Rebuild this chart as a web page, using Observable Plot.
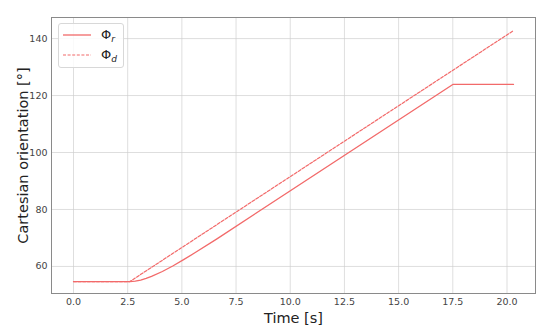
<!DOCTYPE html>
<html>
<head>
<meta charset="utf-8">
<script src="https://cdn.jsdelivr.net/npm/d3@7"></script>
<script src="https://cdn.jsdelivr.net/npm/@observablehq/plot@0.6"></script>
<style>
  html, body { margin: 0; padding: 0; background: #fff; }
  #wrap { position: relative; width: 550px; height: 327px; font-family: "DejaVu Sans", sans-serif; }
  #legend { position: absolute; left: 58px; top: 23px; width: 64px; height: 43px;
    border: 1px solid #d8d8d8; border-radius: 3px; background: rgba(255,255,255,0.85); }
  .entry { position: absolute; left: 4px; height: 16px; display: flex; align-items: center; font-size: 13px; color: #222; }
  .entry svg { margin-right: 10px; }
  .entry sub { font-style: italic; font-size: 9px; vertical-align: -3px; }
  svg [aria-label="y-axis label"] text, svg [aria-label="x-axis label"] text { font-size: 14.5px; fill: #222; }
</style>
</head>
<body>
<div id="wrap"></div>
<script>
// Time [s] and orientation [°]
const timeD = [0, 2.6, 20.3];
const phiD = [54.7, 54.7, 142.8];

const timeR = [0, 2.6, 2.85, 3.1, 3.35, 3.6, 4.1, 4.6, 5.1, 5.6, 6.6, 17.5, 20.3];
const phiR = [54.7, 54.7, 54.84, 55.21, 55.78, 56.49, 58.23, 60.26, 62.47, 64.79, 69.6, 123.9, 123.9];

const xTicks = [0, 2.5, 5, 7.5, 10, 12.5, 15, 17.5, 20];
const yTicks = [60, 80, 100, 120, 140];

const lineColor = "#f26a6a";

const dataD = timeD.map((t, i) => ({t, v: phiD[i]}));
const dataR = timeR.map((t, i) => ({t, v: phiR[i]}));

const chart = Plot.plot({
  width: 550,
  height: 327,
  marginLeft: 51,
  marginRight: 15,
  marginTop: 17,
  marginBottom: 34,
  style: {fontFamily: "DejaVu Sans, sans-serif", fontSize: "9.5px", color: "#444", background: "#fff"},
  x: {domain: [-1.015, 21.315]},
  y: {domain: [50.5, 147.4]},
  marks: [
    Plot.gridX(xTicks, {stroke: "#ccc", strokeOpacity: 0.65}),
    Plot.gridY(yTicks, {stroke: "#ccc", strokeOpacity: 0.65}),
    Plot.axisX({ticks: xTicks, tickFormat: d => d.toFixed(1), tickSize: 0, tickPadding: 5,
      label: "Time [s]", labelAnchor: "center", labelArrow: "none", labelOffset: 29}),
    Plot.axisY({ticks: yTicks, tickFormat: d => String(d), tickSize: 0, tickPadding: 4,
      label: "Cartesian orientation [°]", labelAnchor: "center", labelArrow: "none", labelOffset: 34}),
    Plot.line(dataD, {x: "t", y: "v", stroke: lineColor, strokeWidth: 1.2, strokeDasharray: "3,1.6"}),
    Plot.line(dataR, {x: "t", y: "v", stroke: lineColor, strokeWidth: 1.3}),
    Plot.frame({stroke: "#8a8a8a", strokeWidth: 1})
  ]
});

const wrap = document.getElementById("wrap");
wrap.appendChild(chart);

const legend = document.createElement("div");
legend.id = "legend";
legend.innerHTML = `
  <div class="entry" style="top:3px"><svg width="28" height="6"><line x1="0" y1="3" x2="28" y2="3" stroke="${lineColor}" stroke-width="1.3"/></svg><span>Φ<sub>r</sub></span></div>
  <div class="entry" style="top:23px"><svg width="28" height="6"><line x1="0" y1="3" x2="28" y2="3" stroke="${lineColor}" stroke-width="1.2" stroke-dasharray="3,1.6"/></svg><span>Φ<sub>d</sub></span></div>`;
wrap.appendChild(legend);
</script>
</body>
</html>
